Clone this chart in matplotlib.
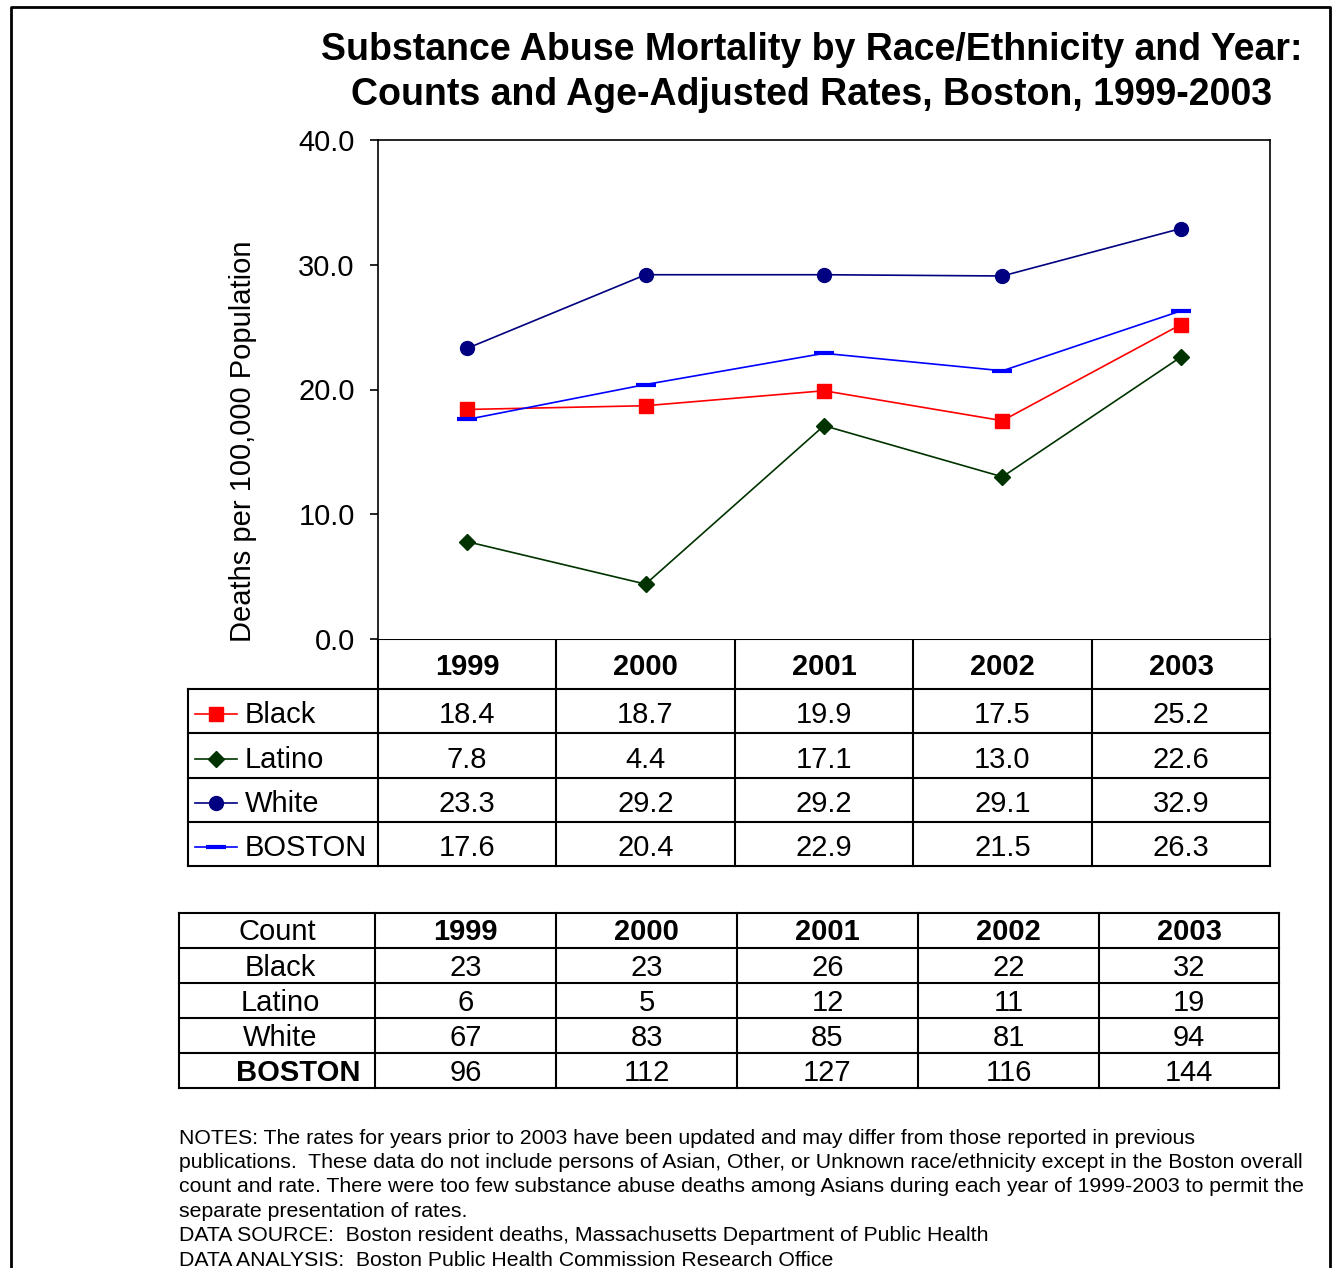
import matplotlib
matplotlib.use("Agg")
from matplotlib import pyplot as plt

plt.rcParams["font.family"] = ["Liberation Sans", "DejaVu Sans"]

# data
years = ["1999", "2000", "2001", "2002", "2003"]
groups = ["Black", "Latino", "White", "BOSTON"]
rate_black = [18.4, 18.7, 19.9, 17.5, 25.2]
rate_latino = [7.8, 4.4, 17.1, 13.0, 22.6]
rate_white = [23.3, 29.2, 29.2, 29.1, 32.9]
rate_boston = [17.6, 20.4, 22.9, 21.5, 26.3]
count_black = [23, 23, 26, 22, 32]
count_latino = [6, 5, 12, 11, 19]
count_white = [67, 83, 85, 81, 94]
count_boston = [96, 112, 127, 116, 144]

rates = [rate_black, rate_latino, rate_white, rate_boston]
counts = [count_black, count_latino, count_white, count_boston]
colors = ["#FF0000", "#003300", "#000080", "#0000FF"]
markers = ["s", "D", "o", "_"]
msizes = [10, 8, 10, 14]
mews = [1, 1, 1, 3]

notes = [
    "NOTES: The rates for years prior to 2003 have been updated and may differ from those reported in previous",
    "publications.  These data do not include persons of Asian, Other, or Unknown race/ethnicity except in the Boston overall",
    "count and rate. There were too few substance abuse deaths among Asians during each year of 1999-2003 to permit the",
    "separate presentation of rates.",
    "DATA SOURCE:  Boston resident deaths, Massachusetts Department of Public Health",
    "DATA ANALYSIS:  Boston Public Health Commission Research Office",
]

W, H = 1335, 1268
FS = 21
fig = plt.figure(figsize=(W / 100, H / 100), dpi=100)

# pixel-coordinate overlay for frame, tables, text
ov = fig.add_axes([0, 0, 1, 1])
ov.set_xlim(0, W)
ov.set_ylim(H, 0)
ov.axis("off")

lw = 1.5
ov.plot([11, 11, 1330, 1330], [H, 7, 7, H], color="black", lw=2)

ov.text(812, 50, "Substance Abuse Mortality by Race/Ethnicity and Year:",
        ha="center", va="center", fontsize=27, fontweight="bold")
ov.text(812, 95, "Counts and Age-Adjusted Rates, Boston, 1999-2003",
        ha="center", va="center", fontsize=27, fontweight="bold")

# line chart
left, right, top, bottom = 378, 1270, 140, 639
ax = fig.add_axes([left / W, 1 - bottom / H, (right - left) / W, (bottom - top) / H])
x = list(range(len(years)))
for vals, c, m, ms, mew in zip(rates, colors, markers, msizes, mews):
    ax.plot(x, vals, lw=1.2, color=c, marker=m, markersize=ms, markeredgewidth=mew)
ax.set_xlim(-0.5, len(years) - 0.5)
ax.set_ylim(0, 40)
ax.set_yticks([0, 10, 20, 30, 40])
ax.set_yticklabels([f"{v:.1f}" for v in [0, 10, 20, 30, 40]], fontsize=FS)
ax.set_xticks([])
ax.tick_params(axis="y", direction="out", length=5.8, width=1.2, pad=11)
ax.spines["bottom"].set_visible(False)
for s in ["left", "top", "right"]:
    ax.spines[s].set_linewidth(1.2)
ov.text(243, 441, "Deaths per 100,000 Population", rotation=90,
        ha="center", va="center", fontsize=FS)

# rate data table under chart
col_edges = [378, 556, 735, 913, 1092, 1270]
row_edges = [689, 733, 778, 822, 866]
ov.plot([left, right], [639, 639], color="black", lw=lw)
for xe in col_edges:
    ov.plot([xe, xe], [639, 866], color="black", lw=lw)
ov.plot([188, 188], [689, 866], color="black", lw=lw)
for ye in row_edges:
    ov.plot([188, right], [ye, ye], color="black", lw=lw)
for i, yr in enumerate(years):
    cx = (col_edges[i] + col_edges[i + 1]) / 2
    ov.text(cx, 667, yr, ha="center", va="center", fontsize=FS, fontweight="bold")
for r, g in enumerate(groups):
    cy = (row_edges[r] + row_edges[r + 1]) / 2 + 4
    ov.plot([195, 237], [cy - 1, cy - 1], lw=1.2, color=colors[r])
    ov.plot([216], [cy - 1], color=colors[r], marker=markers[r],
            markersize=msizes[r], markeredgewidth=mews[r])
    ov.text(245, cy, g, ha="left", va="center", fontsize=FS)
    for i, v in enumerate(rates[r]):
        cx = (col_edges[i] + col_edges[i + 1]) / 2
        ov.text(cx, cy, f"{v:.1f}", ha="center", va="center", fontsize=FS)

# count table
c_cols = [179, 375, 556, 737, 918, 1099, 1279]
c_rows = [913, 948, 983, 1018, 1053, 1088]
for xe in c_cols:
    ov.plot([xe, xe], [c_rows[0], c_rows[-1]], color="black", lw=lw)
for ye in c_rows:
    ov.plot([c_cols[0], c_cols[-1]], [ye, ye], color="black", lw=lw)
ov.text(277, 932.5, "Count", ha="center", va="center", fontsize=FS)
for i, yr in enumerate(years):
    cx = (c_cols[i + 1] + c_cols[i + 2]) / 2
    ov.text(cx, 932.5, yr, ha="center", va="center", fontsize=FS, fontweight="bold")
for r, (g, vals) in enumerate(zip(groups, counts)):
    cy = (c_rows[r + 1] + c_rows[r + 2]) / 2 + 2.5
    bold = g == "BOSTON"
    ov.text(298 if bold else 280, cy, g, ha="center", va="center", fontsize=FS,
            fontweight="bold" if bold else "normal")
    for i, v in enumerate(vals):
        cx = (c_cols[i + 1] + c_cols[i + 2]) / 2
        ov.text(cx, cy, str(v), ha="center", va="center", fontsize=FS)

# notes
for k, line in enumerate(notes):
    ov.text(179, 1138 + k * 24.4, line, ha="left", va="center", fontsize=15.3)

fig.savefig("out.png", dpi=100)
plt.close(fig)
